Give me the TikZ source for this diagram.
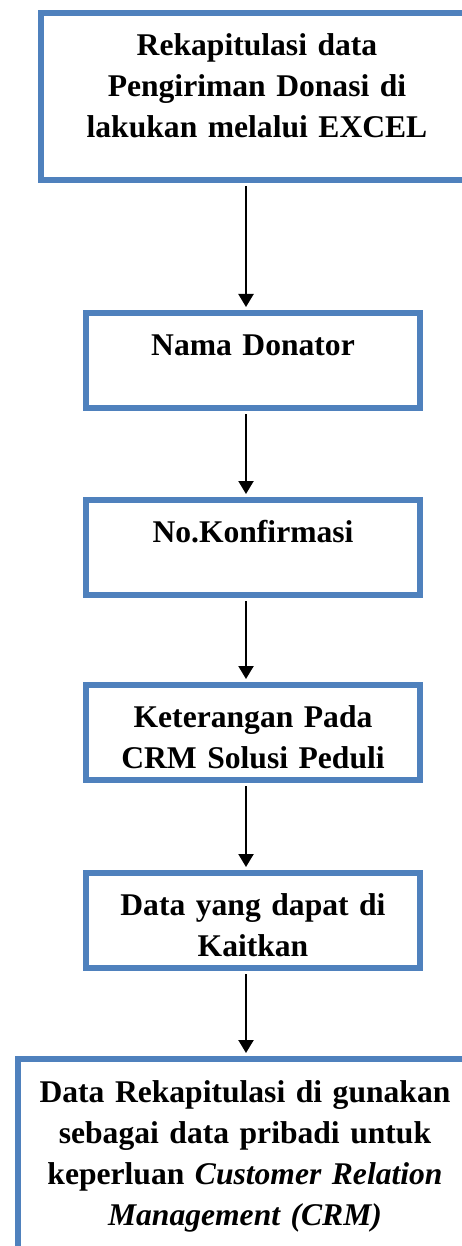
\documentclass[tikz,border=0pt]{standalone}
\usepackage{fontspec}
\setmainfont{Liberation Serif}
\usetikzlibrary{arrows.meta}

\definecolor{boxblue}{HTML}{4F81BD}

\begin{document}
\begin{tikzpicture}[
    x = 1pt,
    y = -1pt,
    >={Triangle[width=15pt,length=13pt]},
    box/.style = {
      draw = boxblue,
      line width = 6pt,
      anchor = north west,
      inner xsep = 0pt,
      inner ysep = 0pt,
      align = center,
      font = \bfseries\fontsize{31.6}{41}\selectfont,
      text height = 42pt,
      text depth = 53pt
    },
    proc/.style = {
      box,
      text width = 334pt
    },
    flow/.style = {
      ->,
      line width = 2.2pt,
      shorten <= 3pt,
      shorten >= 3pt
    }
  ]
  \useasboundingbox (0,0) rectangle (462,1246);
  \clip (0,0) rectangle (462,1246);

  \coordinate (axis) at (246,0);

  \node[box, text width = 432pt, text height = 43pt, text depth = 124pt]
    (rekap) at (38,10) {Rekapitulasi data\\ Pengiriman Donasi di\\ lakukan melalui EXCEL};

  \node[proc] (nama)  at (83,310) {Nama Donator};
  \node[proc] (konf)  at (83,497) {No.Konfirmasi};
  \node[proc] (ket)   at (83,682) {Keterangan Pada\\ CRM Solusi Peduli};
  \node[proc] (kait)  at (83,870) {Data yang dapat di\\ Kaitkan};

  \node[box, text width = 454pt, text height = 43pt, text depth = 200pt]
    (hasil) at (15,1056) {Data Rekapitulasi di gunakan\\ sebagai data pribadi untuk\\
      keperluan \textit{Customer Relation}\\ \textit{Management (CRM)}};

  \draw[flow] (rekap.south -| axis) -- (nama.north -| axis);
  \draw[flow] (nama.south -| axis)  -- (konf.north -| axis);
  \draw[flow] (konf.south -| axis)  -- (ket.north -| axis);
  \draw[flow] (ket.south -| axis)   -- (kait.north -| axis);
  \draw[flow] (kait.south -| axis)  -- (hasil.north -| axis);
\end{tikzpicture}
\end{document}
